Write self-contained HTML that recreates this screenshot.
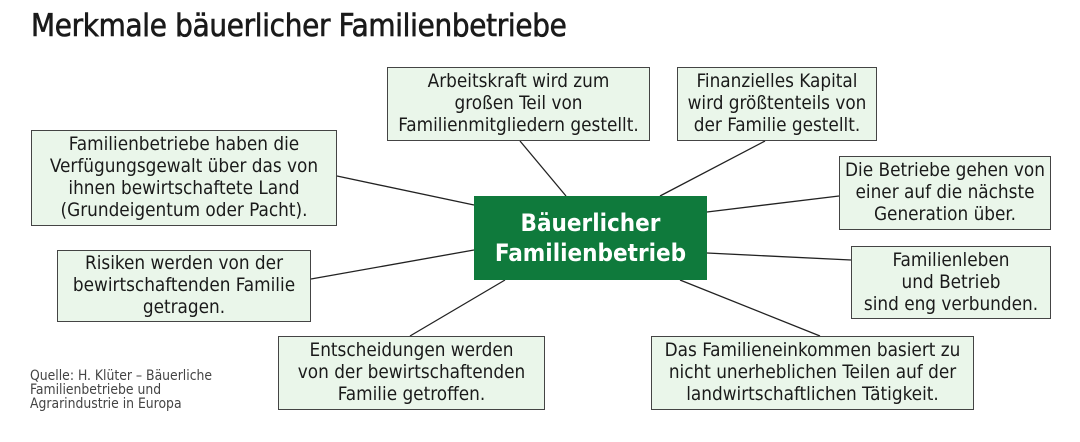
<!DOCTYPE html>
<html><head><meta charset="utf-8"><style>
body{margin:0;width:1080px;height:442px;background:#fff;position:relative;overflow:hidden;font-family:"DejaVu Sans Condensed","Liberation Sans Narrow","Liberation Sans",sans-serif;}
.t{position:absolute;left:31px;top:8px;font-size:31px;color:#1a1a1a;letter-spacing:-0.3px;-webkit-text-stroke:0.6px #1a1a1a}
.b{position:absolute;box-sizing:border-box;border:1.5px solid #444;background:#eaf6ea;font-size:18.8px;line-height:22px;color:#1a1a1a;text-align:center;display:flex;align-items:center;justify-content:center;white-space:nowrap}
.c{position:absolute;left:474px;top:196px;width:233px;height:84px;background:#0f7a3c;color:#fff;font-weight:bold;font-size:24px;line-height:30px;text-align:center;display:flex;align-items:center;justify-content:center}
.q{position:absolute;left:30px;top:369px;font-size:13.8px;line-height:14px;color:#444}
svg{position:absolute;left:0;top:0}
</style></head><body>
<svg width="1080" height="442"><g stroke="#222" stroke-width="1.3">
<line x1="520" y1="141" x2="566" y2="196"/><line x1="765" y1="141" x2="660" y2="196"/>
<line x1="337" y1="176" x2="474" y2="205"/><line x1="839" y1="196" x2="707" y2="212"/>
<line x1="311" y1="279" x2="474" y2="250"/><line x1="851" y1="260" x2="707" y2="253"/>
<line x1="410" y1="336" x2="505" y2="280"/><line x1="820" y1="336" x2="680" y2="280"/>
</g></svg>
<div class="t">Merkmale bäuerlicher Familienbetriebe</div>
<div class="b" style="left:387px;top:67px;width:263px;height:74px">Arbeitskraft wird zum<br>großen Teil von<br>Familienmitgliedern gestellt.</div>
<div class="b" style="left:677px;top:67px;width:200px;height:74px">Finanzielles Kapital<br>wird größtenteils von<br>der Familie gestellt.</div>
<div class="b" style="left:31px;top:130px;width:306px;height:96px">Familienbetriebe haben die<br>Verfügungsgewalt über das von<br>ihnen bewirtschaftete Land<br>(Grundeigentum oder Pacht).</div>
<div class="b" style="left:839px;top:156px;width:212px;height:74px">Die Betriebe gehen von<br>einer auf die nächste<br>Generation über.</div>
<div class="b" style="left:57px;top:250px;width:254px;height:72px">Risiken werden von der<br>bewirtschaftenden Familie<br>getragen.</div>
<div class="b" style="left:851px;top:246px;width:200px;height:73px">Familienleben<br>und Betrieb<br>sind eng verbunden.</div>
<div class="b" style="left:278px;top:336px;width:267px;height:74px">Entscheidungen werden<br>von der bewirtschaftenden<br>Familie getroffen.</div>
<div class="b" style="left:651px;top:336px;width:323px;height:74px">Das Familieneinkommen basiert zu<br>nicht unerheblichen Teilen auf der<br>landwirtschaftlichen Tätigkeit.</div>
<div class="c">Bäuerlicher<br>Familienbetrieb</div>
<div class="q">Quelle: H. Klüter – Bäuerliche<br>Familienbetriebe und<br>Agrarindustrie in Europa</div>
</body></html>
